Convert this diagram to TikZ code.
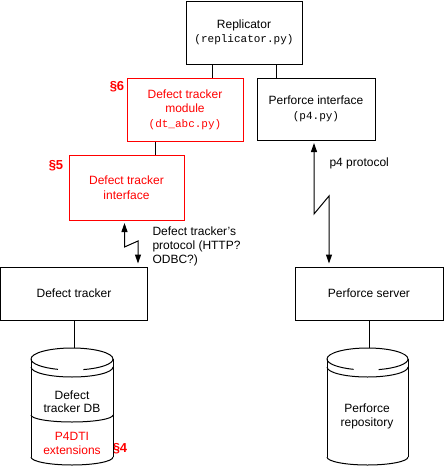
\documentclass[tikz,border=0pt]{standalone}
\usepackage{fontspec}
\setmainfont{Liberation Sans}
\setmonofont{Liberation Mono}
\usetikzlibrary{arrows.meta}
\begin{document}
\begin{tikzpicture}[x=1pt,y=1pt,line width=1pt,
  box/.style={draw,rectangle,inner sep=0pt,align=center,font=\fontsize{12}{14.5}\selectfont},
  redbox/.style={box,draw=red,text=red},
  sec/.style={text=red,font=\fontsize{13}{14}\selectfont\bfseries,inner sep=0pt},
  lbl/.style={inner sep=0pt,align=left,font=\fontsize{12}{14}\selectfont},
  txt/.style={inner sep=0pt,align=center,font=\fontsize{12}{13.5}\selectfont},
  proto/.style={{Triangle[width=6pt,length=9pt]}-{Triangle[width=6pt,length=9pt]},shorten <=2.5pt,shorten >=3pt}]
\useasboundingbox (0,0) rectangle (444,-467);

% boxes
\node[box,minimum width=116pt,minimum height=63pt] (rep) at (244,-32.5)
  {Replicator\\{\fontsize{11}{14.5}\selectfont\ttfamily(replicator.py)}};
\node[redbox,minimum width=116pt,minimum height=63pt] (mod) at (185,-109.5)
  {Defect tracker\\module\\{\fontsize{11}{14.5}\selectfont\ttfamily(dt\_abc.py)}};
\node[box,minimum width=118pt,minimum height=62pt] (pi) at (316,-109)
  {Perforce interface\\{\fontsize{11}{14.5}\selectfont\ttfamily(p4.py)}};
\node[redbox,minimum width=115pt,minimum height=65pt] (dti) at (126.5,-187.5)
  {Defect tracker\\interface};
\node[box,minimum width=147pt,minimum height=53pt] (dt) at (74,-293.5)
  {Defect tracker};
\node[box,minimum width=148pt,minimum height=53pt] (ps) at (369,-293.5)
  {Perforce server};

% section marks
\node[sec] (s6) at (117,-87) {§6};
\node[sec] (s5) at (56,-166) {§5};
\node[sec] (s4) at (120,-449) {§4};

% plain links
\coordinate (c1) at (212,0);
\coordinate (c2) at (276,0);
\coordinate (c3) at (155,0);
\draw (rep.south -| c1) -- (mod.north -| c1);
\draw (rep.south -| c2) -- (pi.north -| c2);
\draw (mod.south -| c3) -- (dti.north -| c3);

% protocol links
\coordinate (j1) at (124.5,-247);
\coordinate (j2) at (138,-241);
\draw[proto] (dti.south -| j1) -- (j1) -- (j2) -- (dt.north -| j2);
\coordinate (k1) at (314,-214);
\coordinate (k2) at (329,-196);
\draw[proto] (pi.south -| k1) -- (k1) -- (k2) -- (ps.north -| k2);

\node[lbl,anchor=north west] (dtp) at (152,-226) {Defect tracker's\\protocol (HTTP?\\ODBC?)};
\node[lbl,anchor=base west] (p4p) at (329,-166) {p4 protocol};

% left cylinder (defect tracker DB)
\coordinate (dbtop) at (74,-348);
\draw (31,-359) arc[start angle=180,end angle=0,x radius=41,y radius=11];
\draw (31,-359) arc[start angle=180,end angle=250,x radius=41,y radius=11];
\draw (113,-359) arc[start angle=360,end angle=286,x radius=41,y radius=11];
\draw (31,-367) arc[start angle=180,end angle=360,x radius=41,y radius=10];
\draw (31,-359) -- (31,-457);
\draw (113,-359) -- (113,-457);
\draw (31,-415) arc[start angle=180,end angle=360,x radius=41,y radius=7];
\draw (31,-457) arc[start angle=180,end angle=360,x radius=41,y radius=8];
\node[txt] (dbt) at (72,-401.5) {Defect\\tracker DB};
\node[txt,text=red] (ext) at (72,-443.5) {P4DTI\\extensions};

% right cylinder (perforce repository)
\coordinate (rptop) at (369,-348);
\draw (327,-359) arc[start angle=180,end angle=0,x radius=40.5,y radius=11];
\draw (327,-359) arc[start angle=180,end angle=250,x radius=40.5,y radius=11];
\draw (408,-359) arc[start angle=360,end angle=286,x radius=40.5,y radius=11];
\draw (327,-367) arc[start angle=180,end angle=360,x radius=40.5,y radius=10];
\draw (327,-359) -- (327,-457);
\draw (408,-359) -- (408,-457);
\draw (327,-457) arc[start angle=180,end angle=360,x radius=40.5,y radius=8];
\node[txt] (rpt) at (367,-416.5) {Perforce\\repository};

% links to storage
\draw (dt.south) -- (dbtop);
\draw (ps.south) -- (rptop);
\end{tikzpicture}
\end{document}
